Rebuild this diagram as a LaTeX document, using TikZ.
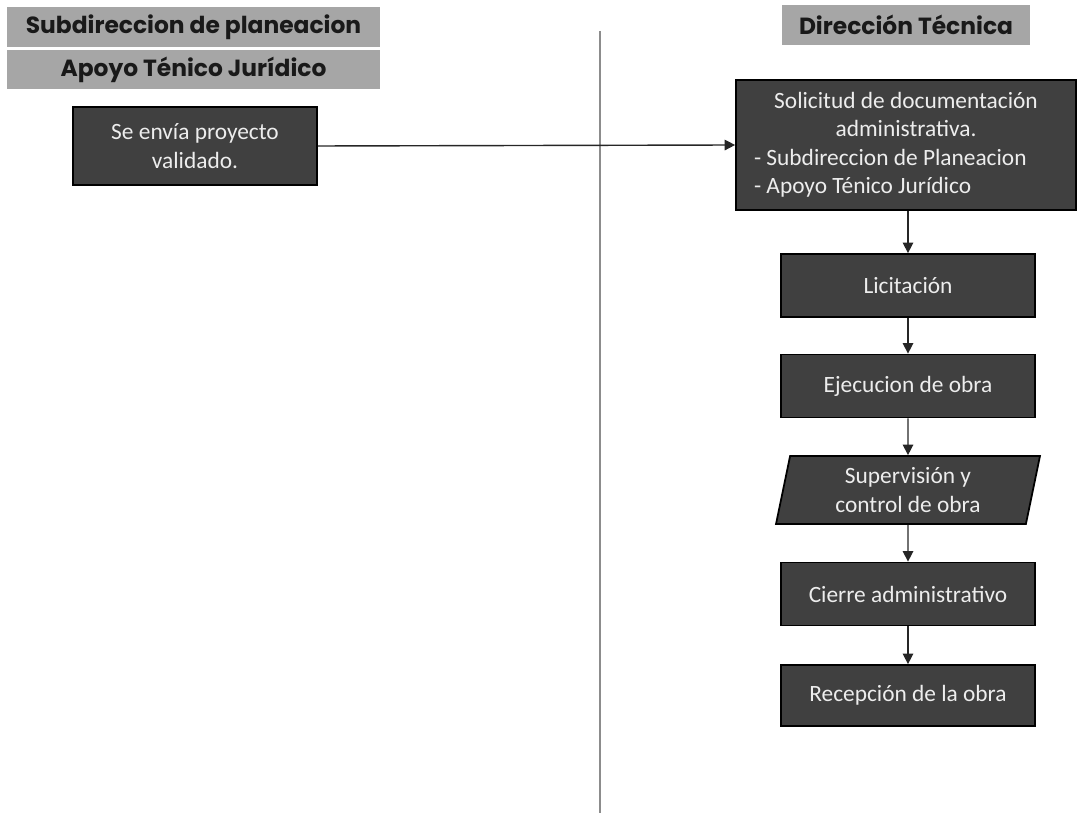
\documentclass[tikz,border=0pt]{standalone}
\usepackage{fontspec}
\setmainfont{Carlito}
\newfontfamily\headfont{Poppins}
\usetikzlibrary{arrows.meta,shapes.geometric}
\definecolor{headgray}{HTML}{A6A6A6}
\definecolor{boxgray}{HTML}{404040}
\definecolor{boxtext}{HTML}{EDEDED}
\definecolor{lanegray}{HTML}{8C8C8C}
\begin{document}
\begin{tikzpicture}[x=0.02cm, y=-0.02cm,
    header/.style={fill=headgray, inner sep=0pt, minimum height=0.8cm,
      font=\headfont\bfseries\fontsize{13.3}{15}\selectfont, text=black!90},
    procbox/.style={draw=black, line width=1pt, fill=boxgray, text=boxtext,
      font=\fontsize{13.3}{16.2}\selectfont, align=center,
      minimum width=5.08cm, minimum height=1.26cm},
    flow/.style={draw=black!85, line width=0.8pt, -{Triangle[length=6pt,width=6pt]}}]
		% Marco
		\useasboundingbox (0,0) rectangle (1078,813);
		
		% Linea divisoria
		\coordinate (lanetop) at (600,31);
		\coordinate (lanebot) at (600,813);
		\draw[lanegray, line width=0.7pt] (lanetop) -- (lanebot);
		
		% Encabezados
		\node[header, minimum width=7.46cm] at (193.5,27) (hsub) {Subdireccion de planeacion};
		\node[header, minimum width=7.46cm, minimum height=0.78cm] at (193.5,69.5) (hapoyo) {Apoyo Ténico Jurídico};
		\node[header, minimum width=4.96cm] at (906,25) (hdir) {Dirección Técnica};
		
		% Procesos
		\node[procbox, minimum width=4.88cm, minimum height=1.56cm] at (195,146) (envio) {Se envía proyecto\\validado.};
		\node[procbox, minimum width=6.8cm, minimum height=2.6cm, text width=6.08cm, align=flush left] at (906,145) (solicitud)
			{\makebox[\linewidth]{Solicitud de documentación}\\\makebox[\linewidth]{administrativa.}\\- Subdireccion de Planeacion\\- Apoyo Ténico Jurídico};
		\node[procbox] at (908,285.5) (licitacion) {Licitación};
		\node[procbox] at (908,386) (ejecucion) {Ejecucion de obra};
		\node[procbox, trapezium, trapezium left angle=76, trapezium right angle=104,
			trapezium stretches body, minimum width=5.28cm, minimum height=1.36cm, inner xsep=0pt] at (908,490) (supervision)
			{Supervisión y\\control de obra};
		\node[procbox] at (908,594) (cierre) {Cierre administrativo};
		\node[procbox, minimum height=1.22cm] at (908,695.5) (recepcion) {Recepción de la obra};
		
		% Flechas
		\draw[flow] (envio.east) -- (solicitud.west);
		\draw[flow] (solicitud.south -| licitacion.north) -- (licitacion.north);
		\draw[flow] (licitacion) -- (ejecucion);
		\draw[flow] (ejecucion) -- (supervision);
		\draw[flow] (supervision) -- (cierre);
		\draw[flow] (cierre) -- (recepcion);
\end{tikzpicture}
\end{document}
